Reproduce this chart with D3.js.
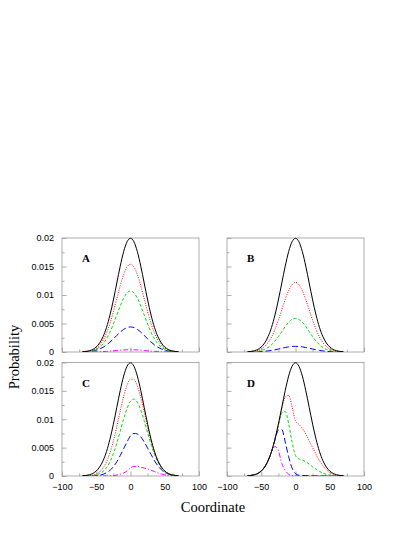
<!DOCTYPE html>
<html>
<head>
<meta charset="utf-8">
<script src="https://cdn.jsdelivr.net/npm/d3@7"></script>
<style>
  body { margin: 0; background: #fff; }
  svg { display: block; }
</style>
</head>
<body>
<div id="chart"></div>
<script>
// sample positions shared by every curve
const coords = [-70, -65, -60, -55, -50, -45, -40, -35, -30, -25, -20, -15, -10, -5, 0,
                5, 10, 15, 20, 25, 30, 35, 40, 45, 50, 55, 60, 65, 70];

// total probability (black, same in all panels)
const totalProb = [0.00004, 0.0001, 0.00022, 0.00045, 0.00088, 0.00159, 0.0027, 0.00432, 0.00648, 0.00913, 0.0121, 0.01506, 0.01761, 0.01934, 0.01995,
                   0.01934, 0.01761, 0.01506, 0.0121, 0.00913, 0.00648, 0.00432, 0.0027, 0.00159, 0.00088, 0.00045, 0.00022, 0.0001, 0.00004];

// panel A
const aRed = [0.00003, 0.00008, 0.00017, 0.00035, 0.00068, 0.00123, 0.00208, 0.00333, 0.005, 0.00705, 0.00934, 0.01162, 0.01359, 0.01493, 0.0154,
              0.01493, 0.01359, 0.01162, 0.00934, 0.00705, 0.005, 0.00333, 0.00208, 0.00123, 0.00068, 0.00035, 0.00017, 0.00008, 0.00003];
const aGreen = [0.00002, 0.00005, 0.00012, 0.00024, 0.00047, 0.00085, 0.00145, 0.00231, 0.00347, 0.0049, 0.00649, 0.00808, 0.00944, 0.01037, 0.0107,
                0.01037, 0.00944, 0.00808, 0.00649, 0.0049, 0.00347, 0.00231, 0.00145, 0.00085, 0.00047, 0.00024, 0.00012, 0.00005, 0.00002];
const aBlue = [0.00003, 0.00006, 0.00011, 0.00019, 0.00033, 0.00054, 0.00084, 0.00124, 0.00174, 0.00231, 0.00291, 0.00349, 0.00397, 0.00429, 0.0044,
               0.00429, 0.00397, 0.00349, 0.00291, 0.00231, 0.00174, 0.00124, 0.00084, 0.00054, 0.00033, 0.00019, 0.00011, 0.00006, 0.00003];
const aMagenta = [0, 0.00001, 0.00001, 0.00002, 0.00003, 0.00005, 0.00008, 0.00011, 0.00016, 0.00021, 0.00026, 0.00032, 0.00036, 0.00039, 0.0004,
                  0.00039, 0.00036, 0.00032, 0.00026, 0.00021, 0.00016, 0.00011, 0.00008, 0.00005, 0.00003, 0.00002, 0.00001, 0.00001, 0];

// panel B
const bRed = [0.00003, 0.00006, 0.00014, 0.00028, 0.00054, 0.00097, 0.00165, 0.00264, 0.00396, 0.00559, 0.0074, 0.00921, 0.01077, 0.01182, 0.0122,
              0.01182, 0.01077, 0.00921, 0.0074, 0.00559, 0.00396, 0.00264, 0.00165, 0.00097, 0.00054, 0.00028, 0.00014, 0.00006, 0.00003];
const bGreen = [0.00001, 0.00003, 0.00007, 0.00013, 0.00026, 0.00047, 0.0008, 0.00128, 0.00192, 0.0027, 0.00358, 0.00445, 0.00521, 0.00572, 0.0059,
                0.00572, 0.00521, 0.00445, 0.00358, 0.0027, 0.00192, 0.00128, 0.0008, 0.00047, 0.00026, 0.00013, 0.00007, 0.00003, 0.00001];
const bBlue = [0.00001, 0.00001, 0.00002, 0.00004, 0.00008, 0.00012, 0.00019, 0.00028, 0.00039, 0.00052, 0.00066, 0.00079, 0.0009, 0.00097, 0.001,
               0.00097, 0.0009, 0.00079, 0.00066, 0.00052, 0.00039, 0.00028, 0.00019, 0.00012, 0.00008, 0.00004, 0.00002, 0.00001, 0.00001];

// panel C
const cRed = [0.00001, 0.00003, 0.00007, 0.00017, 0.00037, 0.00076, 0.00143, 0.00251, 0.00408, 0.00618, 0.00871, 0.01145, 0.01402, 0.01601, 0.01706,
              0.017, 0.01583, 0.01381, 0.01127, 0.00861, 0.00618, 0.00416, 0.00262, 0.00155, 0.00086, 0.00044, 0.00022, 0.0001, 0.00004];
const cGreen = [0, 0.00001, 0.00004, 0.00009, 0.0002, 0.00042, 0.00082, 0.00148, 0.0025, 0.00394, 0.00578, 0.00791, 0.01007, 0.01193, 0.01317,
                0.01356, 0.01301, 0.01164, 0.00974, 0.00761, 0.00555, 0.0038, 0.00242, 0.00145, 0.00082, 0.00042, 0.00021, 0.0001, 0.00004];
const cBlue = [0, 0, 0.00001, 0.00003, 0.00007, 0.00015, 0.0003, 0.00057, 0.00099, 0.00163, 0.0025, 0.0036, 0.00481, 0.00601, 0.0071,
               0.0075, 0.0074, 0.0069, 0.006, 0.0049, 0.0038, 0.0027, 0.0018, 0.0011, 0.00066, 0.00036, 0.00018, 0.00009, 0.00003];
const cMagenta = [0, 0, 0, 0, 0, 0, 0.00001, 0.00002, 0.00004, 0.00008, 0.00016, 0.0003, 0.00052, 0.0009, 0.00142,
                  0.0017, 0.00168, 0.00155, 0.0014, 0.00124, 0.00102, 0.00078, 0.00055, 0.00035, 0.0002, 0.0001, 0.00004, 0.00002, 0.00001];

// panel D
const dRed = [0.00004, 0.0001, 0.00022, 0.00045, 0.00088, 0.00159, 0.0027, 0.00432, 0.00648, 0.0091, 0.0119, 0.0139, 0.0142, 0.0122, 0.0097,
              0.0091, 0.0084, 0.0074, 0.0062, 0.005, 0.0038, 0.0027, 0.0018, 0.0011, 0.0006, 0.0003, 0.00012, 0.00005, 0.00002];
const dGreen = [0.00004, 0.0001, 0.00022, 0.00045, 0.00088, 0.00159, 0.0027, 0.0043, 0.0064, 0.0089, 0.0111, 0.0114, 0.0092, 0.006, 0.0036,
                0.003, 0.0028, 0.0025, 0.0021, 0.0016, 0.0012, 0.0008, 0.0005, 0.0003, 0.00013, 0.00005, 0.00002, 0.00001, 0];
const dBlue = [0.00004, 0.0001, 0.00022, 0.00045, 0.00088, 0.00159, 0.0027, 0.0043, 0.0063, 0.0081, 0.0082, 0.006, 0.0034, 0.0014, 0.0004,
               0.00015, 0.0001, 0.00007, 0.00004, 0.00002, 0.00001, 0, 0, 0, 0, 0, 0, 0, 0];
const dMagenta = [0.00004, 0.0001, 0.00022, 0.00045, 0.00088, 0.00159, 0.0027, 0.0042, 0.0052, 0.0045, 0.0022, 0.001, 0.0003, 0.00008, 0.00002,
                  0, 0, 0, 0, 0, 0, 0, 0, 0, 0, 0, 0, 0, 0];

const xTicks = [-100, -50, 0, 50, 100];
const xMinor = [-75, -25, 25, 75];
const yTicks = [0, 0.005, 0.01, 0.015, 0.02];
const yMinor = [0.0025, 0.0075, 0.0125, 0.0175];

const panelNames = ['A', 'B', 'C', 'D'];
const panelSeries = [
    [totalProb, aRed, aGreen, aBlue, aMagenta],
    [totalProb, bRed, bGreen, bBlue],
    [totalProb, cRed, cGreen, cBlue, cMagenta],
    [totalProb, dRed, dGreen, dBlue, dMagenta]
];

// estilos de linea: negro, rojo punteado, verde, azul, magenta
const lineStyles = [
    { color: '#000000', dash: null },
    { color: '#ff0000', dash: '1,1.4' },
    { color: '#00dd00', dash: '3,2' },
    { color: '#0000ff', dash: '6,3' },
    { color: '#ff00ff', dash: '5,2,1.2,2' }
];

const width = 415, height = 537;
const cols = [[62, 199], [227, 364]];
const rows = [[238, 352], [362.5, 476]];

const svg = d3.select('#chart')
    .append('svg')
    .attr('width', width)
    .attr('height', height);

panelNames.forEach((name, i) => {
    const col = i % 2, row = Math.floor(i / 2);
    const [x0, x1] = cols[col];
    const [y0, y1] = rows[row];

    const x = d3.scaleLinear().domain([-100, 100]).range([x0, x1]);
    const y = d3.scaleLinear().domain([0, 0.02]).range([y1, y0]);

    const g = svg.append('g');

    g.append('clipPath')
        .attr('id', 'clip' + name)
        .append('rect')
        .attr('x', x0).attr('y', y0 - 1)
        .attr('width', x1 - x0).attr('height', y1 - y0 + 1);

    // ejes (ticks hacia dentro)
    const yAxis = g.append('g')
        .attr('transform', `translate(${x0},0)`)
        .call(d3.axisLeft(y).tickValues(yTicks).tickSize(-4.5).tickPadding(8)
            .tickFormat(col === 0 ? d => String(d) : ''));
    g.append('g')
        .attr('transform', `translate(${x0},0)`)
        .call(d3.axisLeft(y).tickValues(yMinor).tickSize(-2.5).tickFormat(''));

    const xAxis = g.append('g')
        .attr('transform', `translate(0,${y1})`)
        .call(d3.axisBottom(x).tickValues(xTicks).tickSize(-4.5).tickPadding(6)
            .tickFormat(row === 1 ? d3.format('d') : ''));
    g.append('g')
        .attr('transform', `translate(0,${y1})`)
        .call(d3.axisBottom(x).tickValues(xMinor).tickSize(-2.5).tickFormat(''));

    g.selectAll('.domain').remove();
    g.selectAll('.tick line').attr('stroke', '#999').attr('stroke-width', 0.8);
    g.selectAll('.tick text')
        .attr('font-family', '"Liberation Sans", Arial, sans-serif')
        .attr('font-size', '9px')
        .attr('fill', '#000');
    xAxis.selectAll('.tick text').attr('y', 8).attr('dy', '0.71em');

    // marco
    g.append('rect')
        .attr('x', x0).attr('y', y0)
        .attr('width', x1 - x0).attr('height', y1 - y0)
        .attr('fill', 'none')
        .attr('stroke', '#999')
        .attr('stroke-width', 0.8);

    // curvas
    const line = d3.line()
        .x(d => x(d[0]))
        .y(d => y(d[1]))
        .curve(d3.curveMonotoneX);

    const curves = g.append('g').attr('clip-path', `url(#clip${name})`);
    // dibujar de la menor a la mayor para que el negro quede encima
    panelSeries[i].slice().map((vals, k) => ({ vals, k })).reverse().forEach(({ vals, k }) => {
        curves.append('path')
            .datum(d3.zip(coords, vals))
            .attr('d', line)
            .attr('fill', 'none')
            .attr('stroke', lineStyles[k].color)
            .attr('stroke-width', 1)
            .attr('stroke-dasharray', lineStyles[k].dash);
    });

    // etiqueta del panel
    g.append('text')
        .attr('x', x0 + 20)
        .attr('y', y0 + 24)
        .attr('font-family', '"Liberation Serif", "Times New Roman", serif')
        .attr('font-weight', 'bold')
        .attr('font-size', '11px')
        .text(name);
});

// titulos de ejes
svg.append('text')
    .attr('x', 213)
    .attr('y', 512)
    .attr('text-anchor', 'middle')
    .attr('font-family', '"Liberation Serif", "Times New Roman", serif')
    .attr('font-size', '14.5px')
    .text('Coordinate');

svg.append('text')
    .attr('transform', 'translate(19,357) rotate(-90)')
    .attr('text-anchor', 'middle')
    .attr('font-family', '"Liberation Serif", "Times New Roman", serif')
    .attr('font-size', '14.5px')
    .text('Probability');
</script>
</body>
</html>
